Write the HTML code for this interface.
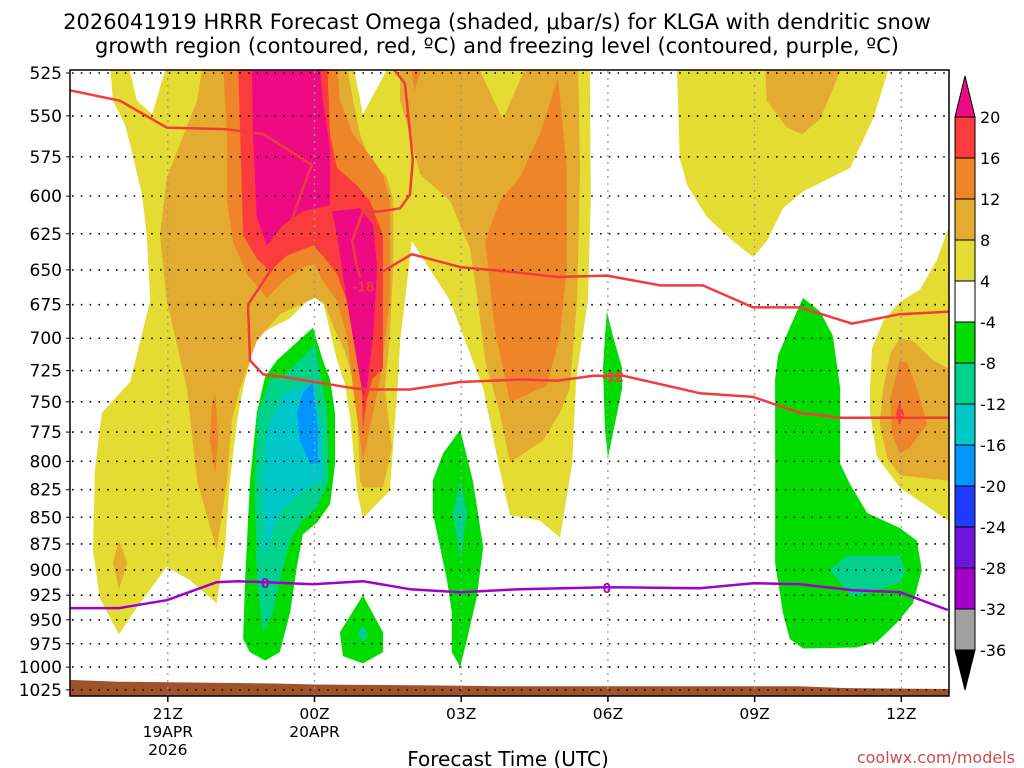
<!DOCTYPE html>
<html><head><meta charset="utf-8"><style>
html,body{margin:0;padding:0;background:#fff}
svg{display:block;font-family:"Liberation Sans","DejaVu Sans",sans-serif}
</style></head><body>
<svg id="chart" width="1024" height="768" viewBox="0 0 1024 768" xmlns="http://www.w3.org/2000/svg">
<text x="497" y="29" font-size="21" text-anchor="middle" font-family="DejaVu Sans, sans-serif">2026041919 HRRR Forecast Omega (shaded, μbar/s) for KLGA with dendritic snow</text>
<text x="497" y="53" font-size="21" text-anchor="middle" font-family="DejaVu Sans, sans-serif">growth region (contoured, red, ºC) and freezing level (contoured, purple, ºC)</text>
<defs><clipPath id="pc"><rect x="70" y="70" width="879" height="626"/></clipPath></defs>
<g id="fills" clip-path="url(#pc)"></g>
<g id="grid"></g>
<g id="lines" clip-path="url(#pc)"></g>
<rect x="70" y="70" width="879" height="626" fill="none" stroke="#000" stroke-width="1.5"/>
<g id="axes"></g>
<g id="cbar"></g>
<text x="508" y="766" font-size="20" text-anchor="middle" font-family="DejaVu Sans, sans-serif">Forecast Time (UTC)</text>
<text x="1015" y="763" font-size="16" text-anchor="end" fill="#d04a4a" font-family="DejaVu Sans, sans-serif">coolwx.com/models</text>
</svg>
<script>
// ---- data ----
const pressureTicks=[525,550,575,600,625,650,675,700,725,750,775,800,825,850,875,900,925,950,975,1000,1025];
const timeTickHours=[2,5,8,11,14,17];
const timeTickLabels=[["21Z","19APR","2026"],["00Z","20APR"],["03Z"],["06Z"],["09Z"],["12Z"]];
const cbLabels=[20,16,12,8,4,-4,-8,-12,-16,-20,-24,-28,-32,-36];
const cbColors=["#fa3c3c","#ef8529","#e3ab2f","#e4dc32","#ffffff","#00dc00","#00d28c","#00c8c8","#0096ff","#1e3cff","#6e14dc","#a000c8","#a0a0a0"];
const freezingLevel=[[0,938],[1,938],[1.98,930],[3,912],[3.42,911],[3.99,912],[4.97,914],[5.99,911],[6.95,919],[7.98,922],[9.2,919],[10.98,917],[12.88,918],[13.97,913],[14.93,914],[16.01,920],[16.97,922],[17.95,940]];
const dgzLineA=[[0,535],[1.02,541],[1.98,557],[3.21,558],[3.95,561],[4.95,580],[4.87,586],[4.5,619]];
const dgzLineB=[[4.15,648],[3.64,675],[3.68,717],[3.95,728],[4.36,730],[5.79,739],[6.13,740],[6.95,740],[7.98,734],[9.2,732],[9.96,733],[10.7,729],[11.31,729],[12.88,743],[13.97,746],[14.93,759],[15.75,763],[18,763]];
const dgzLineC=[[6.54,520],[6.85,531],[7.01,577],[6.95,599],[6.75,608],[6.34,610],[5.99,610],[5.77,630],[5.87,648],[5.93,655]];
const dgzLineD=[[6.4,651],[6.99,639],[7.98,648],[9.2,652],[9.96,655],[10.98,654],[12.07,661],[12.94,661],[13.97,677],[14.93,677],[15.99,689],[16.97,682],[18,680]];
const terrain=[[0,1014],[1,1016],[4.2,1018],[5,1019],[7.4,1020],[8.8,1021],[14.9,1021],[15.9,1023],[18,1024]];
const Y1=[[.82,520],[5.79,520],[5.99,549],[6.54,520],[10.63,520],[10.65,603],[10.59,672],[10.35,732],[10.27,802],[10.02,869],[9.61,853],[9,848],[8.79,808],[8.45,739],[7.77,672],[6.99,630],[6.85,672],[6.75,702],[6.71,732],[6.54,826],[5.99,851],[5.87,826],[5.73,763],[5.62,735],[5.46,717],[5.17,672],[4.97,668],[4.5,685],[3.82,698],[3.54,739],[3.42,765],[3.27,817],[3.17,878],[3,933],[2.45,910],[1.98,897],[1.37,937],[1,965],[.61,928],[.47,881],[.51,808],[.65,759],[1.23,734],[1.64,672],[1.57,626],[1.47,599],[1.23,567],[1.12,555],[.88,541]];
const Y2=[[12.41,520],[12.47,576],[12.62,593],[13.03,614],[13.56,630],[13.97,641],[14.25,630],[14.58,608],[14.99,597],[15.95,582],[16.42,552],[16.77,520]];
const Y3=[[18,622],[17.95,622],[17.73,643],[17.38,664],[16.97,673],[16.63,687],[16.4,708],[16.36,739],[16.36,759],[16.5,796],[16.97,823],[17.95,853],[18,853]];
const W1=[[1.19,520],[1.98,520],[1.68,549],[1.37,541]];
const LOc=[[2.72,520],[5.66,520],[5.79,541],[5.93,561],[6.13,577],[6.48,588],[6.61,603],[6.61,648],[6.54,698],[6.44,739],[6.58,788],[6.4,823],[5.99,823],[5.93,817],[5.87,746],[5.79,732],[5.62,710],[5.42,694],[5.21,675],[5.01,670],[4.7,675],[4.29,682],[3.82,702],[3.48,739],[3.31,765],[3.21,817],[3,881],[2.6,817],[2.39,739],[1.98,672],[1.84,626],[1.98,588],[2.25,567],[2.6,541]];
const LOt=[[6.75,520],[10.39,520],[10.43,582],[10.37,672],[10.22,739],[10.02,759],[9.67,782],[9,801],[8.79,759],[8.49,717],[8.34,672],[8.18,635],[7.77,603],[7.16,586],[6.95,561],[6.75,541]];
const Yn=[[8.32,520],[9.35,520],[8.85,552]];
const LO2=[[14.21,520],[14.25,541],[14.66,557],[14.97,561],[15.34,552],[15.81,520]];
const LO3=[[16.63,739],[16.77,712],[16.97,700],[17.24,702],[17.65,717],[18,724],[18,817],[17.53,815],[16.97,812],[16.71,797],[16.56,768]];
const LOd=[[1,872],[1.17,893],[1,919],[.88,893]];
const Oc=[[3.13,520],[3.21,561],[3.21,603],[3.33,630],[3.62,653],[4.03,670],[4.36,658],[4.76,648],[5.01,646],[5.17,658],[5.46,672],[5.66,698],[5.79,739],[5.99,799],[6.2,759],[6.34,732],[6.54,672],[6.54,603],[6.4,586],[6.13,574],[5.79,561],[5.52,541],[5.46,520]];
const Ot=[[6.95,520],[7.22,520],[7.05,535]];
const Or=[[9.98,528],[10.16,582],[10.16,648],[10.02,698],[9.75,737],[9,750],[8.69,694],[8.49,630],[8.79,603],[9.2,588],[9.61,561]];
const Ol=[[2.97,743],[3.03,779],[2.97,811],[2.86,782],[2.9,754]];
const O3=[[16.83,739],[16.97,717],[17.12,719],[17.32,739],[17.53,768],[17.18,788],[16.97,793],[16.81,776],[16.77,747]];
const Rc=[[3.44,520],[3.48,561],[3.54,626],[3.82,642],[4.09,651],[4.44,640],[4.97,633],[5.17,640],[5.46,653],[5.66,672],[5.87,698],[5.97,739],[5.99,773],[6.07,748],[6.18,732],[6.4,723],[6.4,626],[6.13,603],[5.87,593],[5.46,582],[5.32,561],[5.26,520]];
const R3=[[16.97,750],[17.06,760],[16.97,770],[16.89,760]];
const Ml=[[3.72,520],[3.74,561],[3.82,614],[4.03,633],[4.36,619],[4.76,610],[5.32,606],[5.32,570],[5.17,541],[5.11,520]];
const Mr=[[5.36,610],[5.93,608],[6.2,619],[6.28,648],[6.2,698],[6.07,739],[5.99,745],[5.66,672],[5.46,626]];
const G1=[[4.97,692],[5.17,717],[5.32,732],[5.42,759],[5.42,802],[5.32,838],[5.05,855],[4.76,866],[4.64,897],[4.5,943],[4.29,984],[3.99,993],[3.68,984],[3.54,970],[3.58,910],[3.68,817],[3.82,759],[3.99,730],[4.23,717]];
const T1=[[3.95,963],[3.82,910],[3.78,817],[3.84,759],[4.09,732],[4.36,730],[5.01,705],[5.26,759],[5.28,817],[5.05,841],[4.76,853],[4.5,872],[4.29,910],[4.15,943]];
const C1=[[3.99,888],[3.93,817],[4.03,773],[4.36,743],[4.97,734],[5.15,773],[5.17,817],[4.76,826],[4.36,841],[4.15,862]];
const B1=[[4.64,759],[4.76,743],[4.97,734],[5.07,773],[5.07,802],[4.91,802],[4.7,782]];
const G2=[[5.99,925],[6.4,963],[6.4,984],[5.99,996],[5.58,988],[5.52,963]];
const T2=[[5.99,956],[6.1,965],[5.99,974],[5.88,965]];
const G3=[[7.98,773],[8.24,817],[8.45,878],[8.32,927],[8.12,970],[7.98,1000],[7.81,984],[7.81,943],[7.71,910],[7.42,846],[7.42,817],[7.63,793]];
const T3=[[7.98,817],[8.12,846],[7.98,890],[7.83,846]];
const G4=[[10.98,680],[11.1,698],[11.29,723],[11.29,739],[11.19,759],[11,797],[10.94,773],[10.9,723],[10.94,698]];
const G5=[[14.99,670],[15.34,680],[15.6,698],[15.75,739],[15.75,802],[15.95,820],[16.3,846],[16.97,860],[17.32,872],[17.42,900],[17.24,933],[16.91,953],[16.5,973],[16.09,979],[14.99,980],[14.72,970],[14.58,943],[14.42,893],[14.42,732],[14.48,713],[14.72,692]];
const T5=[[15.54,900],[15.89,886],[16.97,886],[17.08,902],[16.97,913],[16.01,927]];

// ---- scales ----
const X=h=>70+h*48.9;
const Y=p=>73+922*Math.log(p/525);
const NS="http://www.w3.org/2000/svg";
function mk(tag,parent,attrs){const e=document.createElementNS(NS,tag);for(const k in attrs)e.setAttribute(k,attrs[k]);parent.appendChild(e);return e;}
const pts=a=>a.map(d=>X(d[0]).toFixed(1)+","+Y(d[1]).toFixed(1)).join(" ");

const fills=document.getElementById("fills");
const layers=[
 [Y1,"#e4dc32","omega-4-8-main"],[Y2,"#e4dc32","omega-4-8-upper-right"],[Y3,"#e4dc32","omega-4-8-right-edge"],[W1,"#ffffff","omega-neutral-notch"],
 [LOc,"#e3ab2f","omega-8-12-center"],[LOt,"#e3ab2f","omega-8-12-top"],[Yn,"#e4dc32","omega-4-8-notch"],[LO2,"#e3ab2f","omega-8-12-upper-right"],[LO3,"#e3ab2f","omega-8-12-right"],[LOd,"#e3ab2f","omega-8-12-left-small"],
 [Oc,"#ef8529","omega-12-16-center"],[Ot,"#ef8529","omega-12-16-top"],[Or,"#ef8529","omega-12-16-03z"],[Ol,"#ef8529","omega-12-16-left"],[O3,"#ef8529","omega-12-16-12z"],
 [Rc,"#fa3c3c","omega-16-20-center"],[R3,"#fa3c3c","omega-16-20-12z"],[Ml,"#ee0a82","omega-gt20-left"],[Mr,"#ee0a82","omega-gt20-right"],
 [G1,"#00dc00","omega-neg4-00z"],[T1,"#00d28c","omega-neg8-00z"],[C1,"#00c8c8","omega-neg12-00z"],[B1,"#0096ff","omega-neg16-00z"],
 [G2,"#00dc00","omega-neg4-01z"],[T2,"#00d28c","omega-neg8-01z"],[G3,"#00dc00","omega-neg4-03z"],[T3,"#00d28c","omega-neg8-03z"],
 [G4,"#00dc00","omega-neg4-06z"],[G5,"#00dc00","omega-neg4-10z"],[T5,"#00d28c","omega-neg8-11z"]
];
layers.forEach(l=>{const e=mk("polygon",fills,{points:pts(l[0]),fill:l[1]});
 
 });
// terrain
const tp=terrain.map(d=>[d[0],d[1]]).concat([[18,1040],[0,1040]]);
const terr=mk("polygon",fills,{points:pts(tp),fill:"#a0522d"});



// grid
const grid=document.getElementById("grid");
pressureTicks.forEach(p=>{const g=mk("line",grid,{x1:72,x2:948,y1:Y(p),y2:Y(p),stroke:"#000","stroke-width":1.6,"stroke-dasharray":"1.6,7.2"});
 
 });
timeTickHours.forEach(h=>{const g=mk("line",grid,{x1:X(h),x2:X(h),y1:71,y2:695,stroke:"#999","stroke-width":1.3,"stroke-dasharray":"2,5"});
 
 });

// lines
const lines=document.getElementById("lines");
function pl(a,c,name){const e=mk("polyline",lines,{points:pts(a),fill:"none",stroke:c,"stroke-width":2.5,"stroke-linejoin":"round"});
 
 }
pl(dgzLineA,"#f23c3c","dgz-contour-a");pl(dgzLineB,"#f23c3c","dgz-contour-minus12");pl(dgzLineC,"#f23c3c","dgz-contour-c");pl(dgzLineD,"#f23c3c","dgz-contour-d");
pl(freezingLevel,"#a000c8","freezing-level-line");
function lab(h,p,t,c,name){
 const e=mk("text",lines,{x:X(h),y:Y(p)+6,"font-size":15,"font-weight":"bold","text-anchor":"middle",fill:c});e.textContent=t;
 
 }
lab(3.99,912,"0","#a000c8","freezing-label-1");lab(10.98,917,"0","#a000c8","freezing-label-2");
lab(11.1,729,"-12","#f23c3c","dgz-label-minus12");lab(6.0,661,"-18","#f23c3c","dgz-label-minus18");

// axes
const axes=document.getElementById("axes");
pressureTicks.forEach(p=>{const t=mk("text",axes,{x:62,y:Y(p)+6,"font-size":17,"text-anchor":"end","font-family":"DejaVu Sans, sans-serif"});t.textContent=p;
 
 
 const k=mk("line",axes,{x1:66,x2:70,y1:Y(p),y2:Y(p),stroke:"#000"});
 
 });
timeTickHours.forEach((h,i)=>{const k=mk("line",axes,{x1:X(h),x2:X(h),y1:696,y2:702,stroke:"#000","stroke-width":1.5});
 
 
 timeTickLabels[i].forEach((s,j)=>{const t=mk("text",axes,{x:X(h),y:719+j*18,"font-size":15.5,"text-anchor":"middle","font-family":"DejaVu Sans, sans-serif"});t.textContent=s;
  
  });});

// colorbar
const cb=document.getElementById("cbar");
const cbY=i=>117+i*41;
const cbTop=mk("polygon",cb,{points:"955,117 975,117 965,76",fill:"#ee0a82",stroke:"#000"});


cbColors.forEach((c,i)=>{const r=mk("rect",cb,{x:955,y:cbY(i),width:20,height:41,fill:c,stroke:"#000","stroke-width":1});
 
 });
const cbBot=mk("polygon",cb,{points:"955,"+cbY(13)+" 975,"+cbY(13)+" 965,690",fill:"#000",stroke:"#000"});


cbLabels.forEach((v,i)=>{const t=mk("text",cb,{x:980,y:cbY(i)+6,"font-size":16,"font-family":"DejaVu Sans, sans-serif"});t.textContent=v;
 
 });
</script>
</body></html>
